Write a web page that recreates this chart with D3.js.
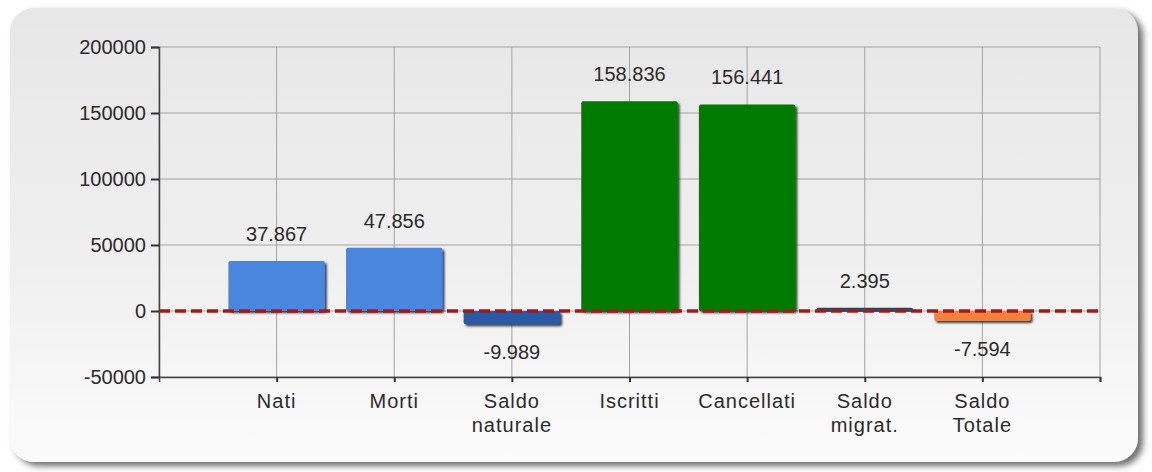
<!DOCTYPE html>
<html>
<head>
<meta charset="utf-8">
<script src="https://cdn.jsdelivr.net/npm/d3@7"></script>
<style>
  body { margin: 0; background: #fff; }
  text { font-family: "Liberation Sans", Arial, sans-serif; fill: #2b2b2b; }
</style>
</head>
<body>
<div id="chart"></div>
<script>
// chart values
var categories = ["Nati", "Morti", "Saldo naturale", "Iscritti", "Cancellati", "Saldo migrat.", "Saldo Totale"];
var values = [37867, 47856, -9989, 158836, 156441, 2395, -7594];
var barColors = ["#4a86de", "#4a86de", "#2a5aa6", "#007a00", "#007a00", "#2c4a66", "#f4803e"];
var yTicks = [-50000, 0, 50000, 100000, 150000, 200000];

var svgWidth = 1152;
var svgHeight = 472;

var margin = { top: 47, right: 52, bottom: 95, left: 159 };
var width = svgWidth - margin.left - margin.right;
var height = svgHeight - margin.top - margin.bottom;

var svg = d3.select("#chart")
    .append("svg")
    .attr("width", svgWidth)
    .attr("height", svgHeight);

var defs = svg.append("defs");

var bg = defs.append("linearGradient")
    .attr("id", "bg")
    .attr("x1", 0).attr("y1", 0).attr("x2", 0).attr("y2", 1);
bg.append("stop").attr("offset", "0%").attr("stop-color", "#e7e7e7");
bg.append("stop").attr("offset", "55%").attr("stop-color", "#efefef");
bg.append("stop").attr("offset", "100%").attr("stop-color", "#fbfbfb");

var panelShadow = defs.append("filter").attr("id", "panelShadow")
    .attr("x", "-5%").attr("y", "-5%").attr("width", "110%").attr("height", "115%");
panelShadow.append("feDropShadow")
    .attr("dx", 5).attr("dy", 4).attr("stdDeviation", 3)
    .attr("flood-color", "#4a4a4a").attr("flood-opacity", 0.8);

var barShadow = defs.append("filter").attr("id", "barShadow")
    .attr("x", "-10%").attr("y", "-10%").attr("width", "130%").attr("height", "140%");
barShadow.append("feDropShadow")
    .attr("dx", 2).attr("dy", 2).attr("stdDeviation", 0.8)
    .attr("flood-color", "#1a1a1a").attr("flood-opacity", 0.85);

// background panel
svg.append("rect")
    .attr("x", 10).attr("y", 8)
    .attr("width", 1128).attr("height", 454)
    .attr("rx", 24).attr("ry", 24)
    .attr("fill", "url(#bg)")
    .attr("filter", "url(#panelShadow)");

var chartGroup = svg.append("g")
    .attr("transform", `translate(${margin.left}, ${margin.top})`);

var xScale = d3.scaleLinear()
    .domain([0, categories.length + 1])
    .range([0, width]);

var yScale = d3.scaleLinear()
    .domain([-50000, 200000])
    .range([height, 0]);

var bandW = xScale(1) - xScale(0);
var barW = bandW * 0.82;

// grid lines
chartGroup.append("g")
    .selectAll("line.h")
    .data(yTicks)
    .enter()
    .append("line")
    .attr("x1", 0).attr("x2", width)
    .attr("y1", d => yScale(d)).attr("y2", d => yScale(d))
    .attr("stroke", "#a3a3a3").attr("stroke-width", 1);

chartGroup.append("g")
    .selectAll("line.v")
    .data(d3.range(0, categories.length + 2))
    .enter()
    .append("line")
    .attr("x1", d => xScale(d)).attr("x2", d => xScale(d))
    .attr("y1", 0).attr("y2", height)
    .attr("stroke", "#a3a3a3").attr("stroke-width", 1);

// italian number format, plain hyphen for negatives
var itLocale = d3.formatLocale({ decimal: ",", thousands: ".", grouping: [3], currency: ["€", ""], minus: "-" });
var itFormat = itLocale.format(",d");
var tickFormat = itLocale.format("d");

// axes
var leftAxis = d3.axisLeft(yScale)
    .tickValues(yTicks)
    .tickSize(8)
    .tickPadding(5)
    .tickFormat(tickFormat);

var yAxisG = chartGroup.append("g").call(leftAxis);
yAxisG.select(".domain").attr("stroke", "#444").attr("stroke-width", 1.5);
yAxisG.selectAll(".tick line").attr("stroke", "#333").attr("stroke-width", 2);
yAxisG.selectAll("text").attr("font-size", "20px").attr("fill", "#2b2b2b")
    .style("font-family", "'Liberation Sans', Arial, sans-serif");

var bottomAxis = d3.axisBottom(xScale)
    .tickValues(d3.range(1, categories.length + 2))
    .tickSize(5)
    .tickFormat("");

var xAxisG = chartGroup.append("g")
    .attr("transform", `translate(0, ${height})`)
    .call(bottomAxis);
xAxisG.select(".domain").attr("stroke", "#444").attr("stroke-width", 1.5);
xAxisG.selectAll(".tick line").attr("stroke", "#333").attr("stroke-width", 2);

// category labels
var catLabels = chartGroup.append("g")
    .selectAll("text.cat")
    .data(categories)
    .enter()
    .append("text")
    .attr("text-anchor", "middle")
    .attr("font-size", "20px")
    .attr("letter-spacing", "1px")
    .attr("x", (d, i) => xScale(i + 1))
    .attr("y", height + 31);

catLabels.each(function(d, i) {
    var parts = d.split(" ");
    d3.select(this).selectAll("tspan")
        .data(parts)
        .enter()
        .append("tspan")
        .attr("x", xScale(i + 1))
        .attr("dy", (p, j) => j === 0 ? 0 : 24)
        .text(p => p);
});

// bars
chartGroup.selectAll("rect.bar")
    .data(values)
    .enter()
    .append("rect")
    .attr("class", "bar")
    .attr("x", (d, i) => xScale(i + 1) - barW / 2)
    .attr("y", d => yScale(Math.max(0, d)))
    .attr("width", barW)
    .attr("height", d => Math.abs(yScale(d) - yScale(0)))
    .attr("rx", 2)
    .attr("fill", (d, i) => barColors[i])
    .attr("filter", "url(#barShadow)");

// value labels
chartGroup.selectAll("text.values")
    .data(values)
    .enter()
    .append("text")
    .attr("text-anchor", "middle")
    .attr("font-size", "20px")
    .attr("x", (d, i) => xScale(i + 1))
    .attr("y", d => d >= 0 ? yScale(d) - 20 : yScale(d) + 35)
    .text(d => itFormat(d));

// zero line
chartGroup.append("line")
    .attr("x1", 0).attr("x2", width)
    .attr("y1", yScale(0)).attr("y2", yScale(0))
    .attr("stroke", "#a51818")
    .attr("stroke-width", 3.5)
    .attr("stroke-dasharray", "11,5");
</script>
</body>
</html>
